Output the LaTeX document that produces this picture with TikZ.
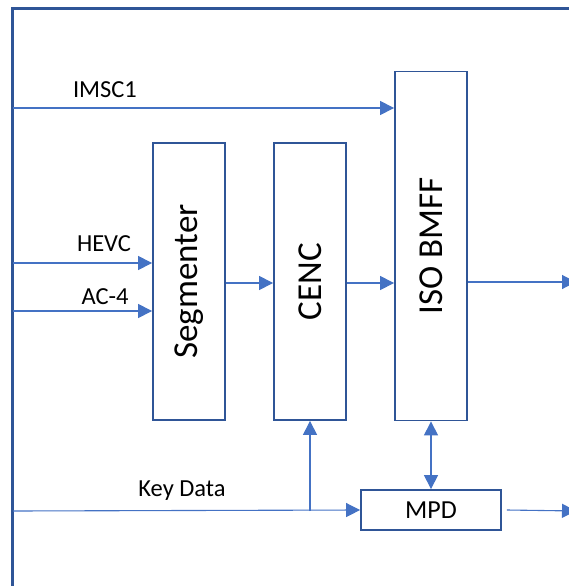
\documentclass[tikz,border=0pt]{standalone}
\usepackage{fontspec}
\setmainfont{Carlito}
\usepackage{tikz}
\usetikzlibrary{arrows.meta, positioning, calc}
\definecolor{framblue}{RGB}{47,85,151}
\definecolor{boxblue}{RGB}{47,85,151}
\definecolor{arrblue}{RGB}{68,114,196}
\tikzset{
  blk/.style={rectangle, draw=boxblue, fill=white, line width=1.8pt,
    minimum width=72pt, inner sep=0pt,
    font=\fontsize{35}{40}\selectfont},
  mpdblk/.style={rectangle, draw=boxblue, fill=white, line width=1.8pt,
    minimum width=140pt, minimum height=40pt, inner sep=0pt,
    font=\fontsize{26}{30}\selectfont},
  lbl/.style={font=\fontsize{24.5}{28}\selectfont, inner sep=0pt},
  frame/.style={draw=framblue, line width=2.6pt},
  arrow/.style={-{Triangle[length=14pt,width=14pt]}, line width=1.1pt, color=arrblue},
  darrow/.style={{Triangle[length=14pt,width=14pt]}-{Triangle[length=14pt,width=14pt]}, line width=1.1pt, color=arrblue}
}

\begin{document}
\begin{tikzpicture}[x=1pt,y=-1pt]
  \useasboundingbox (0,0) rectangle (568,586);
  % outer frame
  \draw[frame] (640,8.5) -- (12.5,8.5) -- (12.5,640);

  % blocks
  \node[blk, minimum height=277pt] (seg) at (189,281.5) {\rotatebox{90}{Segmenter}};
  \node[blk, minimum height=277pt] (cenc) at (310,281.5) {\rotatebox{90}{CENC}};
  \node[blk, minimum height=349pt] (iso) at (431,246) {\rotatebox{90}{ISO BMFF}};
  \node[mpdblk] (mpd) at (431,510) {MPD};

  % inputs
  \coordinate (imscin) at (13,108);
  \coordinate (hevcin) at (13,263);
  \coordinate (acin) at (13,311);
  \coordinate (keyin) at (13,511);
  \coordinate (isoout) at (576,282);
  \coordinate (mpdout) at (576,511);

  \draw[arrow] (imscin) -- (imscin -| iso.west);
  \node[lbl] (imsclbl) at (105,90) {IMSC1};
  \draw[arrow] (hevcin) -- (hevcin -| seg.west);
  \node[lbl] (hevclbl) at (104,244) {HEVC};
  \draw[arrow] (acin) -- (acin -| seg.west);
  \node[lbl] (aclbl) at (105,297) {AC-4};

  % chain
  \draw[arrow] (seg.east |- 0,283) -- (cenc.west |- 0,283);
  \draw[arrow] (cenc.east |- 0,283) -- (iso.west |- 0,283);
  \draw[arrow] (iso.east |- isoout) -- (isoout);

  % key data and MPD
  \draw[arrow] (keyin) -- (mpd.west);
  \node[lbl] (keylbl) at (182,491) {Key Data};
  \draw[arrow] (keyin -| cenc.south) -- (cenc.south);
  \draw[darrow] (iso.south) -- (mpd.north);
  \draw[arrow] ([xshift=5pt]mpd.east) -- (mpdout);
\end{tikzpicture}
\end{document}
